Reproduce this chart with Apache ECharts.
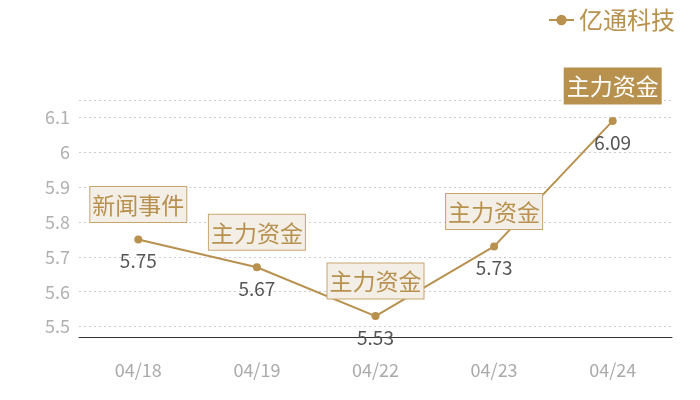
<!DOCTYPE html>
<html><head><meta charset="utf-8">
<script src="https://cdn.jsdelivr.net/npm/echarts@6/dist/echarts.min.js"></script>
<style>html,body{margin:0;padding:0;background:#fff}#c{width:700px;height:400px}</style>
</head><body><div id="c"></div>
<script>
var categories = ['04/18','04/19','04/22','04/23','04/24'];
var prices = [5.75, 5.67, 5.53, 5.73, 6.09];
var events = ['新闻事件','主力资金','主力资金','主力资金','主力资金'];
var seriesName = '亿通科技';

var FONT = '"Noto Sans CJK SC", "Noto Sans", sans-serif';
var GOLD = '#b8914f';
var chart = echarts.init(document.getElementById('c'));
var markData = categories.map(function(c, i){
  var last = i === categories.length - 1;
  return {
    coord: [c, prices[i]],
    value: events[i],
    label: last ? {color:'#fff', backgroundColor: GOLD, borderColor: GOLD} : {}
  };
});
chart.setOption({
  animation:false,
  textStyle:{fontFamily:FONT},
  legend:{
    data:[seriesName], right:20, top:3, itemWidth:25, itemHeight:13, itemGap:8,
    textStyle:{color:GOLD, fontSize:24, fontFamily:FONT}
  },
  grid:{left:79, right:28, top:100, bottom:63},
  xAxis:{
    type:'category', data:categories, boundaryGap:true,
    axisLine:{lineStyle:{color:'#333', width:1}},
    axisTick:{show:false},
    axisLabel:{color:'#aaa', fontSize:18, margin:24, fontFamily:FONT}
  },
  yAxis:{
    type:'value', min:5.47, max:6.15, splitNumber:5,
    axisLine:{show:false}, axisTick:{show:false},
    axisLabel:{color:'#b0b0b0', fontSize:18, margin:9, fontFamily:FONT,
      showMinLabel:false, showMaxLabel:false,
      formatter:function(v){ var r=Math.round(v*10)/10; return Math.abs(r-v)<1e-6 ? String(r) : ''; }},
    splitLine:{lineStyle:{color:'#ccc', type:[2,3]}}
  },
  series:[{
    name:seriesName, type:'line', data:prices,
    symbol:'circle', symbolSize:8,
    itemStyle:{color:GOLD}, lineStyle:{color:GOLD, width:2},
    label:{show:true, position:'bottom', distance:8, color:'#555', fontSize:19, fontFamily:FONT},
    markPoint:{
      symbol:'circle', symbolSize:1, itemStyle:{color:'rgba(0,0,0,0)'},
      label:{
        show:true, position:'top', distance:17,
        formatter:function(p){return p.value;},
        color:GOLD, fontSize:23, fontFamily:FONT,
        backgroundColor:'#f3eee6', borderColor:'#c9a56f', borderWidth:1,
        padding:[4,2,3,2], lineHeight:28
      },
      data:markData
    }
  }]
});
</script></body></html>
